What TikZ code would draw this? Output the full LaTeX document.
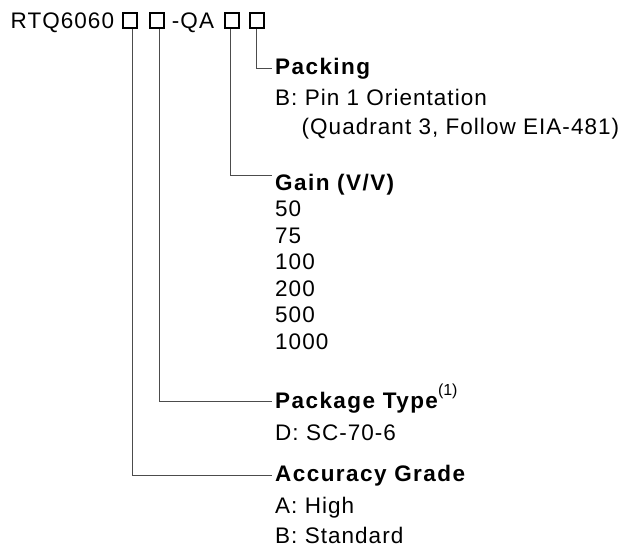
\documentclass[tikz,border=0pt]{standalone}
\usepackage{fontspec}
\setmainfont{Liberation Sans}[LetterSpace=4.6,BoldFeatures={LetterSpace=6.4}]
\newfontfamily\supfont{Liberation Sans}
\begin{document}
\begin{tikzpicture}[x=1pt,y=-1pt,
  txt/.style={anchor=base west,inner sep=0pt,font=\fontsize{22.5}{24}\selectfont},
  hdr/.style={txt,font=\fontsize{22.5}{24}\selectfont\bfseries},
  pbox/.style={draw,line width=2pt,minimum width=14pt,minimum height=15pt,inner sep=0pt},
  conn/.style={draw=black!70,line width=1pt}]
\useasboundingbox (0,0) rectangle (629,550);
\node[txt] (title) at (10.5,28) {RTQ6060};
\node[pbox] (b1) at (130.2,20.5) {};
\node[pbox] (b2) at (156.8,20.5) {};
\node[txt,anchor=base] (qa) at (193,28) {-QA};
\node[pbox] (b3) at (231.5,20.5) {};
\node[pbox] (b4) at (256.7,20.5) {};
% headers and values
\node[hdr] (pk) at (275,74) {Packing};
\node[txt] (pk1) at (275,105) {B: Pin 1 Orientation};
\node[txt] (pk2) at (301.5,134) {(Quadrant 3, Follow EIA-481)};
\node[hdr] (gn) at (275,190) {Gain (V/V)};
\node[txt] (g1) at (275,216.5) {50};
\node[txt] (g2) at (275,243) {75};
\node[txt] (g3) at (275,269.5) {100};
\node[txt] (g4) at (275,296) {200};
\node[txt] (g5) at (275,322.5) {500};
\node[txt] (g6) at (275,349) {1000};
\node[hdr] (pt) at (275,408) {Package Type\raisebox{13pt}{\supfont\mdseries\fontsize{16}{17}\selectfont(1)}};
\node[txt] (pt1) at (275,440) {D: SC-70-6};
\node[hdr] (ag) at (275,481.5) {Accuracy Grade};
\node[txt] (ag1) at (275,513) {A: High};
\node[txt] (ag2) at (275,543) {B: Standard};
% connectors
\coordinate (c4) at (272,68.5);
\coordinate (c3) at (272,175);
\coordinate (c2) at (272,401.5);
\coordinate (c1) at (272,475);
\draw[conn] (b4.south -| 256.7,0) |- (c4);
\draw[conn] (b3.south -| 230,0) |- (c3);
\draw[conn] (b2.south -| 159,0) |- (c2);
\draw[conn] (b1.south -| 132.5,0) |- (c1);
\end{tikzpicture}
\end{document}
